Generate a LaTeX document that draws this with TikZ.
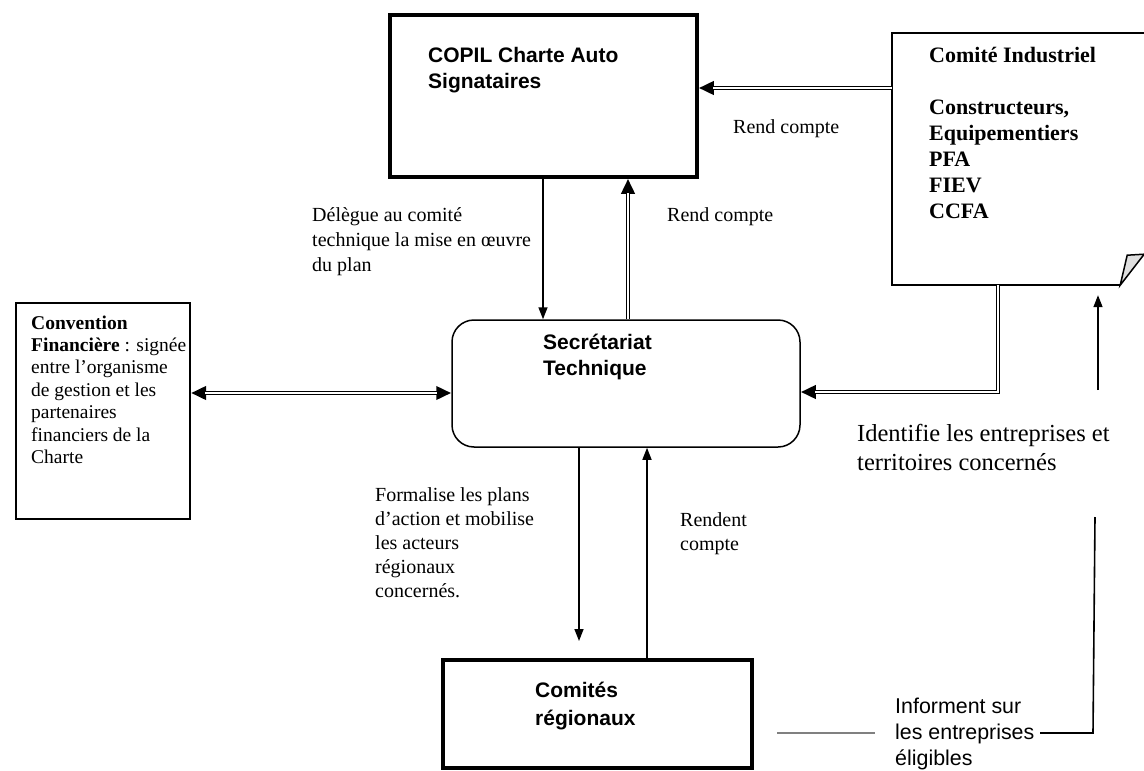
\documentclass[tikz,border=0pt]{standalone}
\usepackage{fontspec}
\setmainfont{Liberation Serif}
\setsansfont{Liberation Sans}
\usetikzlibrary{arrows.meta,calc}
\begin{document}
\begin{tikzpicture}[x=1pt,y=-1pt,
  thickbox/.style={draw, line width=3.5pt, inner sep=0pt},
  thinbox/.style={draw, line width=2pt, inner sep=0pt},
  lbl/.style={anchor=base west, inner sep=0pt, align=left, font=\fontsize{20}{25}\selectfont},
  slbl/.style={anchor=base west, inner sep=0pt, align=left, font=\sffamily\bfseries\fontsize{21}{26}\selectfont},
  sarrow/.style={line width=1.5pt, -{Triangle[length=12pt,width=9pt]}},
  dblarrow/.style={line width=3.6pt, -{Triangle[length=15pt,width=13pt]},
     postaction={draw=white, line width=1.3pt, -, shorten >=14pt}},
  dblboth/.style={line width=3.6pt, {Triangle[length=15pt,width=13pt]}-{Triangle[length=15pt,width=13pt]},
     postaction={draw=white, line width=1.3pt, -, shorten >=14pt, shorten <=14pt}},
]
\useasboundingbox (0,0) rectangle (1144,771);
\fill[white] (0,0) rectangle (1144,771);
\clip (0,0) rectangle (1144,771);

% boxes
\node[thickbox, minimum width=307pt, minimum height=162pt] (copil) at (543.5,96) {};
\node[inner sep=0pt, minimum width=252pt, minimum height=252pt] (ci) at (1018,159) {};
\node[thinbox, minimum width=174pt, minimum height=216pt] (conv) at (103,411) {};
\node[draw, line width=1.5pt, rounded corners=22pt, inner sep=0pt, minimum width=348pt, minimum height=127pt] (sec) at (626,383.5) {};
\node[thickbox, minimum width=309pt, minimum height=108pt] (creg) at (597.5,714) {};

% Comite Industriel outline with folded corner
\draw[line width=2pt] (ci.north east) -- (ci.north west) -- (ci.south west) -- ($(ci.south east)+(-24,0)$) coordinate (fold);
\draw[line width=1.5pt, fill=gray!25] (fold) -- ++(7,-30) -- ++(17,-1) -- cycle;

% texts (anchor base west = baseline of the last line)
\node[slbl] (tcopil) at (428,88) {COPIL Charte Auto\\Signataires};
\node[anchor=base west, inner sep=0pt, align=left, font=\bfseries\fontsize{22}{26}\selectfont] (tci) at (929,218)
  {Comité Industriel\\[26pt]Constructeurs,\\Equipementiers\\PFA\\FIEV\\CCFA};
\node[lbl] (rc1) at (733,133) {Rend compte};
\node[lbl] (deleg) at (312,271) {Délègue au comité\\technique la mise en œuvre\\du plan};
\node[lbl] (rc2) at (667,221) {Rend compte};
\node[slbl] (tsec) at (543,375) {Secrétariat\\Technique};
\node[anchor=base west, inner sep=0pt, align=left, font=\fontsize{19.5}{22.4}\selectfont] (tconv) at (31,463.4)
  {\textbf{Convention}\\\textbf{Financière} : signée\\entre l’organisme\\de gestion et les\\partenaires\\financiers de la\\Charte};
\node[anchor=base west, inner sep=0pt, align=left, font=\fontsize{20}{24}\selectfont] (form) at (375,597)
  {Formalise les plans\\d’action et mobilise\\les acteurs\\régionaux\\concernés.};
\node[anchor=base west, inner sep=0pt, align=left, font=\fontsize{20}{24}\selectfont] (rendent) at (680,550) {Rendent\\compte};
\node[anchor=base west, inner sep=0pt, align=left, font=\sffamily\bfseries\fontsize{21}{28}\selectfont] (tcreg) at (535,725) {Comités\\régionaux};
\node[anchor=base west, inner sep=0pt, align=left, font=\fontsize{24.5}{29}\selectfont] (ident) at (857,470)
  {Identifie les entreprises et\\territoires concernés};
\node[anchor=base west, inner sep=0pt, align=left, font=\sffamily\fontsize{21.4}{26}\selectfont] (inf) at (895,765)
  {Informent sur\\les entreprises\\éligibles};

% helper coordinates
\coordinate (yA) at (0,88);
\coordinate (xB) at (543,0);
\coordinate (xC) at (628,0);
\coordinate (yD) at (0,393);
\coordinate (xE) at (998,0);
\coordinate (yE) at (0,392);
\coordinate (u0) at (1098,390);
\coordinate (xF) at (579,0);
\coordinate (d1) at (579,641);
\coordinate (xG) at (647,0);
\coordinate (r0) at (1095,517);
\coordinate (r1) at (1093,733);
\coordinate (r2) at (1040,733);
\coordinate (g0) at (777,733);
\coordinate (g1) at (875,733);

% connectors
\draw[dblarrow] (ci.west |- yA) -- (copil.east |- yA);
\draw[sarrow] (copil.south -| xB) -- (sec.north -| xB);
\draw[dblarrow] (sec.north -| xC) -- (copil.south -| xC);
\draw[dblboth] (conv.east |- yD) -- (sec.west |- yD);
\draw[dblarrow, line join=miter] (ci.south -| xE) -- (xE |- yE) -- (sec.east |- yE);
\draw[sarrow, shorten >=10pt] (u0) -- (u0 |- ci.south);
\draw[sarrow] (sec.south -| xF) -- (d1);
\draw[sarrow] (creg.north -| xG) -- (sec.south -| xG);
\draw[line width=1.6pt] (r0) -- (r1) -- (r2);
\draw[line width=2pt, gray] (g0) -- (g1);
\end{tikzpicture}
\end{document}
